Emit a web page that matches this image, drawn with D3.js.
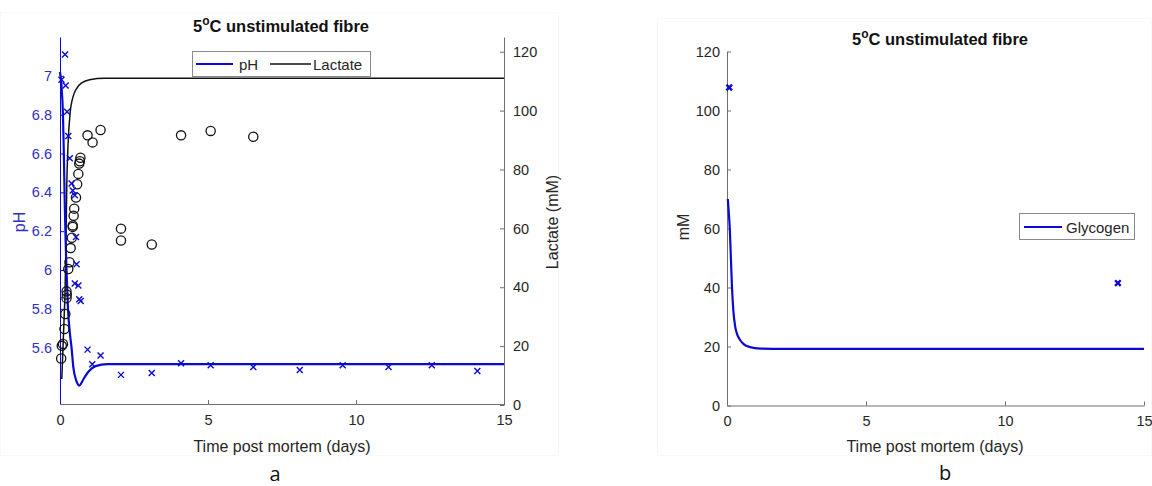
<!DOCTYPE html>
<html>
<head>
<meta charset="utf-8">
<script src="https://cdn.jsdelivr.net/npm/d3@7"></script>
<style>
  body { margin: 0; background: #fff; }
  svg { display: block; font-family: "Liberation Sans", Arial, sans-serif; }
</style>
</head>
<body>
<svg width="1152" height="486"></svg>
<script>
// Measured pH (crosses), panel a
const phDays = [0.05, 0.17, 0.19, 0.24, 0.28, 0.33, 0.39, 0.43, 0.5, 0.54, 0.56, 0.5, 0.62, 0.65, 0.7,
  0.93, 1.09, 1.37, 2.06, 3.1, 4.09, 5.09, 6.53, 8.1, 9.55, 11.1, 12.56, 14.1];
const phValues = [6.98, 7.11, 6.95, 6.815, 6.69, 6.575, 6.445, 6.41, 6.385, 6.17, 6.03, 5.93, 5.92, 5.85, 5.84,
  5.59, 5.515, 5.56, 5.46, 5.47, 5.52, 5.51, 5.5, 5.485, 5.51, 5.5, 5.51, 5.48];

// Measured lactate (circles), panel a
const lacDays = [0.04, 0.06, 0.1, 0.15, 0.18, 0.22, 0.23, 0.22, 0.28, 0.32, 0.36, 0.4, 0.43, 0.43, 0.46, 0.48,
  0.54, 0.58, 0.62, 0.65, 0.67, 0.69, 0.93, 1.1, 1.37, 2.06, 2.06, 3.1, 4.09, 5.09, 6.53];
const lacValues = [15.8, 20.1, 20.7, 25.8, 30.9, 36.3, 37.5, 38.6, 46.2, 48.5, 53.3, 56.8, 60.5, 61.0, 64.3, 66.7,
  70.5, 75, 78.5, 82, 82.8, 84, 91.6, 89.2, 93.4, 59.9, 55.9, 54.5, 91.6, 93.1, 91.1];

// Model curves, panel a
const phModelDays = [0, 0.05, 0.1, 0.13, 0.16, 0.19, 0.22, 0.27, 0.33, 0.39, 0.45, 0.55, 0.65, 0.8, 0.95, 1.2, 1.6, 15];
const phModelValues = [7.02, 6.95, 6.8, 6.6, 6.35, 6.15, 6.0, 5.8, 5.68, 5.6, 5.5, 5.43, 5.405, 5.44, 5.475, 5.505, 5.515, 5.515];
const lacModelDays = [0.06, 0.08, 0.11, 0.14, 0.17, 0.2, 0.23, 0.27, 0.34, 0.45, 0.56, 0.75, 1.0, 1.5, 15];
const lacModelValues = [8.8, 14, 22, 30, 38, 55, 75, 88, 99, 105, 107.5, 109.5, 110.5, 111, 111];

// Panel b: glycogen
const glyModelDays = [0.03, 0.06, 0.1, 0.14, 0.18, 0.23, 0.29, 0.37, 0.47, 0.6, 0.83, 1.2, 2, 15];
const glyModelValues = [70, 66, 60, 50, 40, 32, 27, 24, 22.2, 20.8, 19.8, 19.3, 19.2, 19.2];
const glyDays = [0.08, 14.06];
const glyValues = [107.8, 41.5];

const xTicks = [0, 5, 10, 15];
const phTicks = [5.6, 5.8, 6, 6.2, 6.4, 6.6, 6.8, 7];
const lacTicks = [0, 20, 40, 60, 80, 100, 120];
const glyTicks = [0, 20, 40, 60, 80, 100, 120];

const blue = "#0a0ad2";
const blueText = "#3030c4";
const axisGray = "#6e6e6e";
const textGray = "#262626";

const svg = d3.select("svg");

// faint panel edges from the source figure
svg.append("rect").attr("x", 0.5).attr("y", 12.5).attr("width", 558).attr("height", 443)
  .attr("fill", "none").attr("stroke", "#f8f8f8");
svg.append("rect").attr("x", 657.5).attr("y", 18.5).attr("width", 494).attr("height", 437)
  .attr("fill", "none").attr("stroke", "#f8f8f8");

function crosses(g, xs, ys, days, values, color, size, width) {
  g.append("g")
    .selectAll("path")
    .data(days.map((d, i) => [d, values[i]]))
    .join("path")
    .attr("transform", d => `translate(${xs(d[0])},${ys(d[1])})`)
    .attr("d", `M${-size},${-size}L${size},${size}M${-size},${size}L${size},${-size}`)
    .attr("stroke", color)
    .attr("stroke-width", width)
    .attr("fill", "none");
}

function styleAxis(g, color, textColor) {
  g.select(".domain").attr("stroke", color);
  g.selectAll(".tick line").attr("stroke", color);
  g.selectAll(".tick text").attr("fill", textColor).style("font-size", "14.5px")
    .style("font-family", "'Liberation Sans', Arial, sans-serif");
}

function title(g, x, y) {
  g.append("text").attr("x", x).attr("y", y).attr("text-anchor", "middle")
    .style("font-size", "16.5px").style("font-weight", "bold").attr("fill", "#111")
    .call(t => {
      t.append("tspan").text("5");
      t.append("tspan").attr("dy", -7).style("font-size", "12px").text("o");
      t.append("tspan").attr("dy", 7).text("C unstimulated fibre");
    });
}

// ---------- panel a ----------
const xA = d3.scaleLinear().domain([0, 15]).range([60, 504]);
const yPh = d3.scaleLinear().domain([5.31, 7.2]).range([404, 37]);
const yLac = d3.scaleLinear().domain([0, 125]).range([405, 37]);

const gA = svg.append("g");

gA.append("g")
  .attr("transform", "translate(0,404)")
  .call(d3.axisBottom(xA).tickValues(xTicks).tickSizeInner(-4).tickSizeOuter(0).tickPadding(11))
  .call(g => styleAxis(g, axisGray, textGray));

gA.append("g")
  .attr("transform", "translate(504,0)")
  .call(d3.axisRight(yLac).tickValues(lacTicks).tickSizeInner(-4).tickSizeOuter(0).tickPadding(9))
  .call(g => styleAxis(g, axisGray, textGray));

gA.append("g")
  .attr("transform", "translate(60,0)")
  .call(d3.axisLeft(yPh).tickValues(phTicks).tickFormat(d3.format("~g")).tickSizeInner(-4).tickSizeOuter(0).tickPadding(8))
  .call(g => styleAxis(g, blue, blueText));

// model lines
gA.append("path")
  .attr("d", d3.line().x((d, i) => xA(lacModelDays[i])).y(d => yLac(d)).curve(d3.curveMonotoneX)(lacModelValues))
  .attr("fill", "none").attr("stroke", "#111").attr("stroke-width", 1.5);

gA.append("path")
  .attr("d", d3.line().x((d, i) => xA(phModelDays[i])).y(d => yPh(d)).curve(d3.curveMonotoneX)(phModelValues))
  .attr("fill", "none").attr("stroke", blue).attr("stroke-width", 2.2);

// measured points
gA.append("g")
  .selectAll("circle")
  .data(lacDays.map((d, i) => [d, lacValues[i]]))
  .join("circle")
  .attr("cx", d => xA(d[0]))
  .attr("cy", d => yLac(d[1]))
  .attr("r", 4.6)
  .attr("fill", "none")
  .attr("stroke", "#111")
  .attr("stroke-width", 1.3);

crosses(gA, xA, yPh, phDays, phValues, blue, 3, 1.4);

// legend a
const legA = gA.append("g");
legA.append("rect").attr("x", 192.5).attr("y", 51.5).attr("width", 178).attr("height", 25)
  .attr("fill", "#fff").attr("stroke", "#8a8a8a").attr("stroke-width", 1);
legA.append("line").attr("x1", 196).attr("x2", 233).attr("y1", 64).attr("y2", 64)
  .attr("stroke", blue).attr("stroke-width", 2.2);
legA.append("text").attr("x", 239).attr("y", 69.5).text("pH")
  .style("font-size", "15px").attr("fill", textGray);
legA.append("line").attr("x1", 270).attr("x2", 311).attr("y1", 64).attr("y2", 64)
  .attr("stroke", "#111").attr("stroke-width", 1.5);
legA.append("text").attr("x", 313).attr("y", 69.5).text("Lactate")
  .style("font-size", "15px").attr("fill", textGray);

// titles and labels a
title(gA, 281, 32);

gA.append("text").attr("transform", "translate(25,222) rotate(-90)").attr("text-anchor", "middle")
  .style("font-size", "16px").attr("fill", blueText).text("pH");
gA.append("text").attr("transform", "translate(558,222) rotate(-90)").attr("text-anchor", "middle")
  .style("font-size", "16px").attr("fill", textGray).text("Lactate (mM)");
gA.append("text").attr("x", 282).attr("y", 452).attr("text-anchor", "middle")
  .style("font-size", "16px").attr("fill", textGray).text("Time post mortem (days)");
gA.append("text").attr("x", 275).attr("y", 481).attr("text-anchor", "middle")
  .style("font-size", "20px").style("font-family", "'Open Sans', sans-serif").attr("fill", "#111").text("a");

// ---------- panel b ----------
const xB = d3.scaleLinear().domain([0, 15]).range([727, 1144]);
const yB = d3.scaleLinear().domain([0, 120]).range([405.5, 51.5]);

const gB = svg.append("g");

gB.append("g")
  .attr("transform", "translate(0,405.5)")
  .call(d3.axisBottom(xB).tickValues(xTicks).tickSizeInner(-4).tickSizeOuter(0).tickPadding(10))
  .call(g => styleAxis(g, axisGray, textGray));

gB.append("g")
  .attr("transform", "translate(727,0)")
  .call(d3.axisLeft(yB).tickValues(glyTicks).tickSizeInner(-4).tickSizeOuter(0).tickPadding(7))
  .call(g => styleAxis(g, axisGray, textGray));

gB.append("path")
  .attr("d", d3.line().x((d, i) => xB(glyModelDays[i])).y(d => yB(d)).curve(d3.curveMonotoneX)(glyModelValues))
  .attr("fill", "none").attr("stroke", blue).attr("stroke-width", 2.2);

crosses(gB, xB, yB, glyDays, glyValues, blue, 2.8, 2.4);

// legend b
const legB = gB.append("g");
legB.append("rect").attr("x", 1019.5).attr("y", 213.5).attr("width", 115).attr("height", 26)
  .attr("fill", "#fff").attr("stroke", "#8a8a8a").attr("stroke-width", 1);
legB.append("line").attr("x1", 1024).attr("x2", 1062).attr("y1", 227).attr("y2", 227)
  .attr("stroke", blue).attr("stroke-width", 2.2);
legB.append("text").attr("x", 1066).attr("y", 232.5).text("Glycogen")
  .style("font-size", "15px").attr("fill", textGray);

title(gB, 940, 45);

gB.append("text").attr("transform", "translate(689,227) rotate(-90)").attr("text-anchor", "middle")
  .style("font-size", "16px").attr("fill", textGray).text("mM");
gB.append("text").attr("x", 935).attr("y", 452).attr("text-anchor", "middle")
  .style("font-size", "16px").attr("fill", textGray).text("Time post mortem (days)");
gB.append("text").attr("x", 945).attr("y", 480).attr("text-anchor", "middle")
  .style("font-size", "20px").style("font-family", "'Open Sans', sans-serif").attr("fill", "#111").text("b");
</script>
</body>
</html>
